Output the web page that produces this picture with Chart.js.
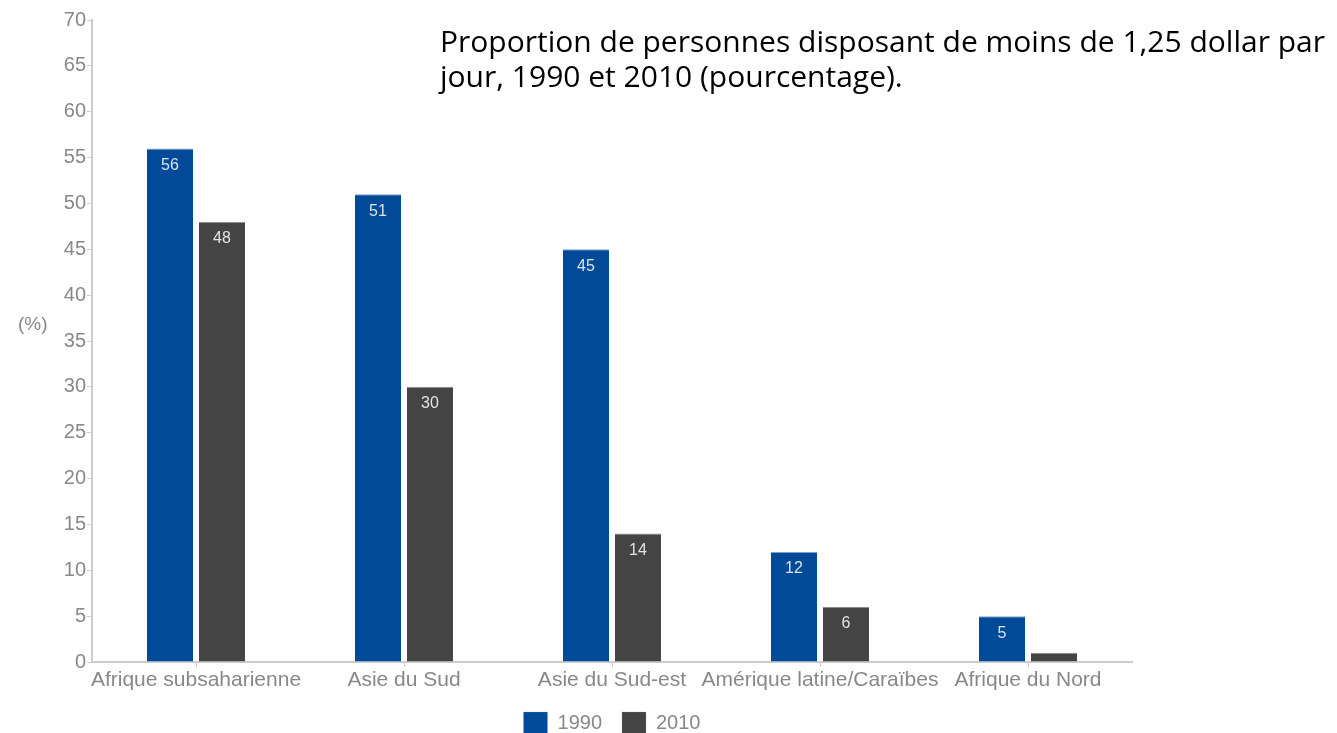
<!DOCTYPE html>
<html lang="fr">
<head>
<meta charset="utf-8">
<title>Proportion de personnes disposant de moins de 1,25 dollar par jour</title>
<script src="https://cdn.jsdelivr.net/npm/chart.js@4.4.1/dist/chart.umd.min.js"></script>
<style>
  html, body { margin: 0; padding: 0; background: #fff; overflow: hidden; }
  body { width: 1337px; height: 733px; position: relative; }
  #wrap { position: absolute; left: 0; top: 0; width: 1224px; height: 744px; }
  #title {
    position: absolute; left: 440px; top: 23px;
    font-family: "Open Sans", sans-serif; font-size: 30px; line-height: 35px;
    color: #000; white-space: pre;
  }
  #unit {
    position: absolute; left: 18px; top: 313px;
    font-family: "Liberation Sans", Arial, sans-serif; font-size: 19px; color: #888;
  }
</style>
</head>
<body>
<div id="wrap"><canvas id="chart"></canvas></div>
<div id="title">Proportion de personnes disposant de moins de 1,25 dollar par
jour, 1990 et 2010 (pourcentage).</div>
<div id="unit">(%)</div>
<script>
// Régions et valeurs (%)
const regions = ['Afrique subsaharienne', 'Asie du Sud', 'Asie du Sud-est', 'Amérique latine/Caraïbes', 'Afrique du Nord'];
const values1990 = [56, 51, 45, 12, 5];
const values2010 = [48, 30, 14, 6, 1];
const yTicks = [0, 5, 10, 15, 20, 25, 30, 35, 40, 45, 50, 55, 60, 65, 70];

const FONT = '"Liberation Sans", Arial, sans-serif';
const AXIS = '#cccccc';

// Étiquette de valeur en haut de chaque barre (si la barre est assez haute)
const barLabels = {
    id: 'barLabels',
    afterDatasetsDraw(chart) {
        const ctx = chart.ctx;
        ctx.save();
        ctx.font = '16px ' + FONT;
        ctx.fillStyle = 'rgba(255,255,255,0.85)';
        ctx.textAlign = 'center';
        ctx.textBaseline = 'middle';
        chart.data.datasets.forEach(function(ds, i) {
            chart.getDatasetMeta(i).data.forEach(function(bar, j) {
                if (bar.base - bar.y < 26) return;
                ctx.fillText(String(ds.data[j]), bar.x, bar.y + 17);
            });
        });
        ctx.restore();
    }
};

// Centre la légende sous la zone de tracé plutôt que sous tout le canvas
const legendUnderPlot = {
    id: 'legendUnderPlot',
    afterLayout(chart) {
        const lg = chart.legend;
        const area = chart.chartArea;
        const shift = (area.left + area.right) / 2 - (lg.left + lg.right) / 2;
        lg.left += shift;
        lg.right += shift;
    }
};

new Chart(document.getElementById('chart'), {
    type: 'bar',
    data: {
        labels: regions,
        datasets: [
            {
                label: '1990',
                data: values1990,
                backgroundColor: '#004a98',
                borderColor: '#7f9fc8',
                borderWidth: { top: 1, left: 0, right: 0, bottom: 0 },
                borderSkipped: 'bottom',
                categoryPercentage: 0.5,
                barPercentage: 0.885,
            },
            {
                label: '2010',
                data: values2010,
                backgroundColor: '#444444',
                borderColor: '#8a8a8a',
                borderWidth: { top: 1, left: 0, right: 0, bottom: 0 },
                borderSkipped: 'bottom',
                categoryPercentage: 0.5,
                barPercentage: 0.885,
            }
        ]
    },
    options: {
        responsive: true,
        maintainAspectRatio: false,
        animation: false,
        layout: { padding: { top: 20, right: 92, left: 0, bottom: 0 } },
        plugins: {
            legend: {
                position: 'bottom',
                labels: {
                    boxWidth: 24,
                    boxHeight: 22,
                    padding: 20,
                    color: '#888',
                    font: { family: FONT, size: 20 },
                }
            },
            tooltip: { enabled: false }
        },
        scales: {
            y: {
                min: 0,
                max: 70,
                afterFit: function(scale) { scale.width = 92; },
                afterBuildTicks: function(scale) {
                    scale.ticks = yTicks.map(function(v) { return { value: v }; });
                },
                border: { color: AXIS, width: 2 },
                grid: { drawOnChartArea: false, color: AXIS, tickLength: 5 },
                ticks: {
                    color: '#888',
                    padding: 1,
                    font: { family: FONT, size: 20 },
                }
            },
            x: {
                afterFit: function(scale) { scale.height = 30; },
                border: { color: AXIS, width: 2 },
                grid: { drawOnChartArea: false, offset: false, color: AXIS, tickLength: 5 },
                ticks: {
                    color: '#888',
                    padding: 1,
                    maxRotation: 0,
                    autoSkip: false,
                    font: { family: FONT, size: 21 },
                }
            }
        }
    },
    plugins: [barLabels, legendUnderPlot]
});
</script>
</body>
</html>
